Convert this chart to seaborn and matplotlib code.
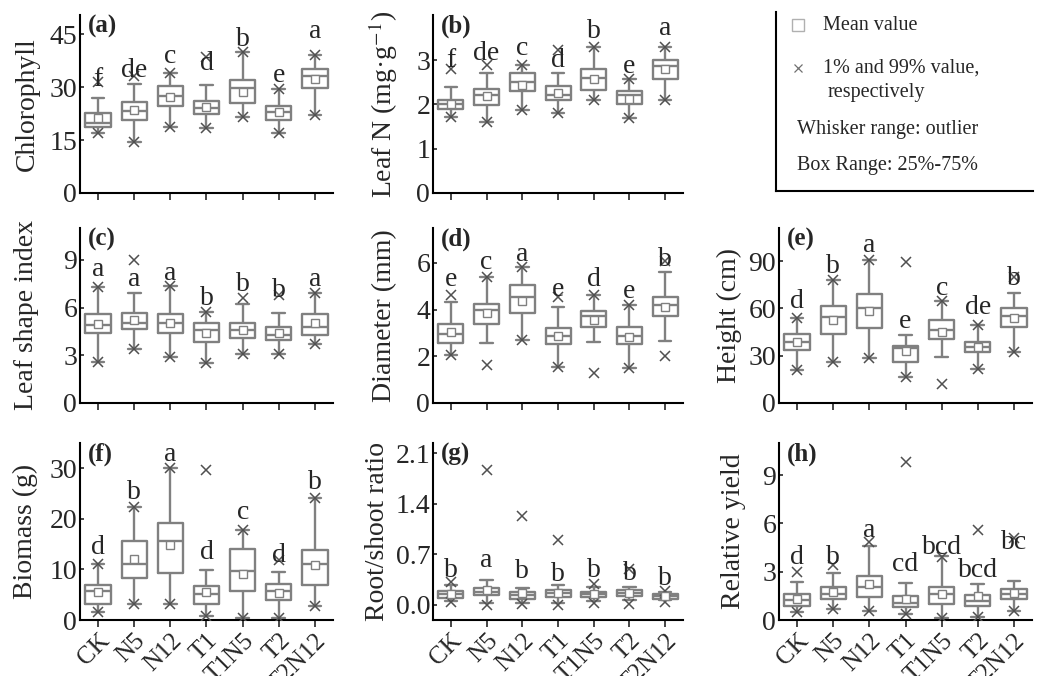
import numpy as np
import pandas as pd
import matplotlib
matplotlib.use("Agg")
import matplotlib.pyplot as plt
import seaborn as sns

groups = ["CK", "N5", "N12", "T1", "T1N5", "T2", "T2N12"]

# five-number summary per group: [whisker low, Q1, median, Q3, whisker high]
chl_stats = [[17.0, 18.8, 19.9, 22.7, 27.0], [14.5, 20.8, 23.3, 25.7, 30.9],
             [18.8, 24.7, 27.6, 30.3, 33.9], [18.3, 22.5, 24.0, 26.0, 30.6],
             [21.6, 25.4, 29.6, 32.0, 39.8], [16.9, 20.6, 23.0, 24.7, 29.4],
             [22.1, 29.6, 33.1, 35.0, 39.1]]
chl_mean = [21.1, 23.5, 27.3, 24.4, 28.7, 22.8, 32.2]
chl_p1 = [17.0, 14.5, 18.8, 18.3, 21.6, 16.9, 22.1]
chl_p99 = [31.5, 33.1, 33.9, 38.6, 39.8, 29.4, 39.1]
chl_letters = ["f", "de", "c", "d", "b", "e", "a"]
chl_letter_y = [32.0, 34.8, 38.6, 36.7, 43.4, 33.4, 45.7]

ln_stats = [[1.72, 1.89, 2.00, 2.11, 2.40], [1.61, 1.98, 2.21, 2.34, 2.70],
            [1.88, 2.30, 2.51, 2.70, 2.90], [1.81, 2.09, 2.21, 2.41, 2.70],
            [2.11, 2.32, 2.60, 2.80, 3.30], [1.70, 2.00, 2.21, 2.31, 2.58],
            [2.11, 2.58, 2.86, 3.00, 3.30]]
ln_mean = [2.02, 2.19, 2.43, 2.26, 2.57, 2.13, 2.80]
ln_p1 = [1.72, 1.61, 1.88, 1.81, 2.11, 1.70, 2.11]
ln_p99 = [2.80, 2.90, 2.90, 3.22, 3.30, 2.58, 3.30]
ln_letters = ["f", "de", "c", "d", "b", "e", "a"]
ln_letter_y = [3.00, 3.15, 3.26, 3.00, 3.64, 2.85, 3.72]

lsi_stats = [[2.57, 4.37, 4.89, 5.59, 7.28], [3.38, 4.68, 5.04, 5.63, 6.90],
             [2.89, 4.37, 5.04, 5.59, 7.36], [2.53, 3.84, 4.58, 5.00, 5.70],
             [3.06, 4.09, 4.58, 5.04, 6.22], [3.06, 3.99, 4.26, 4.79, 5.63],
             [3.69, 4.30, 4.79, 5.57, 6.90]]
lsi_mean = [4.96, 5.21, 5.04, 4.41, 4.58, 4.41, 5.00]
lsi_p1 = [2.57, 3.38, 2.89, 2.53, 3.06, 3.06, 3.69]
lsi_p99 = [7.28, 9.00, 7.36, 5.70, 6.62, 6.80, 6.90]
lsi_letters = ["a", "a", "a", "b", "b", "b", "a"]
lsi_letter_y = [8.38, 7.74, 8.16, 6.58, 7.43, 7.10, 7.74]

dia_stats = [[2.07, 2.58, 2.96, 3.37, 4.35], [2.58, 3.40, 3.97, 4.26, 5.41],
             [2.72, 3.84, 4.55, 5.06, 5.81], [1.54, 2.55, 2.86, 3.22, 4.12],
             [2.60, 3.27, 3.73, 3.94, 4.63], [1.50, 2.53, 2.86, 3.27, 4.19],
             [2.65, 3.73, 4.19, 4.55, 5.60]]
dia_mean = [3.04, 3.84, 4.37, 2.86, 3.55, 2.82, 4.13]
dia_p1 = [2.07, 1.64, 2.72, 1.54, 1.28, 1.50, 2.03]
dia_p99 = [4.63, 5.41, 5.81, 4.55, 4.63, 4.19, 6.10]
dia_letters = ["e", "c", "a", "e", "d", "e", "b"]
dia_letter_y = [5.28, 6.03, 6.35, 4.88, 5.31, 4.76, 6.17]

hgt_stats = [[20.7, 33.6, 38.8, 43.6, 54.0], [25.9, 43.6, 54.7, 61.8, 78.1],
             [28.6, 47.8, 60.3, 69.3, 90.6], [16.5, 25.9, 34.7, 36.3, 43.2],
             [29.4, 40.5, 46.1, 52.6, 64.5], [21.3, 32.2, 35.7, 39.0, 49.5],
             [32.6, 48.4, 55.1, 60.3, 69.7]]
hgt_mean = [38.4, 52.6, 58.2, 32.8, 45.3, 35.7, 54.1]
hgt_p1 = [20.7, 25.9, 28.6, 16.5, 12.3, 21.3, 32.6]
hgt_p99 = [54.0, 78.1, 90.6, 89.6, 64.5, 49.5, 79.7]
hgt_letters = ["d", "b", "a", "e", "c", "de", "b"]
hgt_letter_y = [64.5, 86.4, 100.0, 52.0, 72.9, 60.3, 79.1]

bio_stats = [[1.6, 3.2, 5.7, 7.0, 11.0], [3.2, 8.3, 11.1, 15.6, 22.3],
             [3.1, 9.3, 15.6, 19.2, 30.0], [0.8, 3.1, 5.1, 6.8, 9.8],
             [0.4, 5.7, 9.6, 14.1, 17.8], [0.4, 4.0, 5.7, 7.2, 9.5],
             [2.7, 7.0, 11.0, 13.9, 24.1]]
bio_mean = [5.5, 12.0, 14.9, 5.5, 9.1, 5.4, 10.9]
bio_p1 = [1.6, 3.2, 3.1, 0.8, 0.4, 0.4, 2.7]
bio_p99 = [11.0, 22.3, 30.0, 29.7, 17.8, 11.8, 24.1]
bio_letters = ["d", "b", "a", "d", "c", "d", "b"]
bio_letter_y = [14.4, 25.3, 32.8, 13.3, 21.3, 12.8, 27.2]

rs_stats = [[0.05, 0.10, 0.15, 0.19, 0.28], [0.03, 0.13, 0.18, 0.23, 0.34],
            [0.02, 0.08, 0.14, 0.18, 0.23], [0.02, 0.11, 0.16, 0.21, 0.27],
            [0.05, 0.11, 0.15, 0.18, 0.24], [0.07, 0.12, 0.16, 0.21, 0.24],
            [0.06, 0.08, 0.12, 0.15, 0.18]]
rs_mean = [0.15, 0.21, 0.17, 0.17, 0.15, 0.17, 0.12]
rs_p1 = [0.04, 0.00, 0.01, 0.00, 0.03, 0.01, 0.04]
rs_p99 = [0.31, 1.87, 1.23, 0.90, 0.29, 0.50, 0.19]
rs_letters = ["b", "a", "b", "b", "b", "b", "b"]
rs_letter_y = [0.48, 0.62, 0.46, 0.42, 0.48, 0.44, 0.37]

ry_stats = [[0.50, 0.87, 1.23, 1.60, 2.39], [0.71, 1.33, 1.64, 2.06, 2.95],
            [0.56, 1.43, 2.02, 2.74, 4.62], [0.40, 0.83, 1.08, 1.50, 2.27],
            [0.15, 1.02, 1.60, 2.02, 3.99], [0.21, 0.87, 1.19, 1.56, 2.22],
            [0.56, 1.29, 1.60, 1.91, 2.43]]
ry_mean = [1.33, 1.75, 2.22, 1.29, 1.60, 1.50, 1.70]
ry_p1 = [0.50, 0.71, 0.56, 0.40, 0.15, 0.21, 0.56]
ry_p99 = [2.99, 3.41, 4.86, 9.81, 3.89, 5.61, 5.10]
ry_letters = ["d", "b", "a", "cd", "bcd", "bcd", "bc"]
ry_letter_y = [3.89, 3.89, 5.55, 3.47, 4.51, 3.06, 4.82]

sns.set_style("ticks")
plt.rcParams["font.family"] = ["Liberation Serif", "DejaVu Serif"]
plt.rcParams["mathtext.fontset"] = "stix"

fig = plt.figure(figsize=(10.37, 6.76), dpi=100)
W, H = 1037, 676

col_left = [80, 433, 779]
col_width = [253, 250, 253]
row_top = [15, 228, 443]
row_bot = [193, 403, 620]


def make_ax(r, c):
    return fig.add_axes([col_left[c] / W, 1 - row_bot[r] / H,
                         col_width[c] / W, (row_bot[r] - row_top[r]) / H])


panels = [
    ("(a)", 0, 0, chl_stats, chl_mean, chl_p1, chl_p99, chl_letters, chl_letter_y,
     "Chlorophyll", (0, 50.4), [0, 15, 30, 45], "{:.0f}", -0.158),
    ("(b)", 0, 1, ln_stats, ln_mean, ln_p1, ln_p99, ln_letters, ln_letter_y,
     r"Leaf N (mg·g$^{-1}$)", (0, 4.02), [0, 1, 2, 3], "{:.0f}", -0.132),
    ("(c)", 1, 0, lsi_stats, lsi_mean, lsi_p1, lsi_p99, lsi_letters, lsi_letter_y,
     "Leaf shape index", (0, 11), [0, 3, 6, 9], "{:.0f}", -0.163),
    ("(d)", 1, 1, dia_stats, dia_mean, dia_p1, dia_p99, dia_letters, dia_letter_y,
     "Diameter (mm)", (0, 7.5), [0, 2, 4, 6], "{:.0f}", -0.144),
    ("(e)", 1, 2, hgt_stats, hgt_mean, hgt_p1, hgt_p99, hgt_letters, hgt_letter_y,
     "Height (cm)", (0, 111), [0, 30, 60, 90], "{:.0f}", -0.146),
    ("(f)", 2, 0, bio_stats, bio_mean, bio_p1, bio_p99, bio_letters, bio_letter_y,
     "Biomass (g)", (0, 35), [0, 10, 20, 30], "{:.0f}", -0.166),
    ("(g)", 2, 1, rs_stats, rs_mean, rs_p1, rs_p99, rs_letters, rs_letter_y,
     "Root/shoot ratio", (-0.21, 2.24), [0, 0.7, 1.4, 2.1], "{:.1f}", -0.172),
    ("(h)", 2, 2, ry_stats, ry_mean, ry_p1, ry_p99, ry_letters, ry_letter_y,
     "Relative yield", (0, 11), [0, 3, 6, 9], "{:.0f}", -0.131),
]

box_color = "#808080"
mark_color = "#505050"

for (tag, r, c, stats, mean, p1, p99, letters, let_y,
     ylabel, ylim, yticks, fmt, lab_x) in panels:
    ax = make_ax(r, c)
    rows = []
    for g, s in zip(groups, stats):
        for v in s:
            rows.append((g, v))
    df = pd.DataFrame(rows, columns=["group", "value"])
    sns.boxplot(data=df, x="group", y="value", order=groups, ax=ax,
                whis=(0, 100), fill=False, color=box_color, linewidth=1.7,
                width=0.7, showfliers=False)
    pos = np.arange(len(groups))
    ax.plot(pos, p1, ls="none", marker="x", ms=7, mew=1.1, color=mark_color, zorder=5)
    ax.plot(pos, p99, ls="none", marker="x", ms=7, mew=1.1, color=mark_color, zorder=5)
    ax.plot(pos, mean, ls="none", marker="s", ms=5.5, mfc="white", mec=box_color,
            mew=1.0, zorder=6)
    for i, (t, y) in enumerate(zip(letters, let_y)):
        ax.text(i, y, t, ha="center", va="center", fontsize=20, zorder=7)

    ax.set_xlim(-0.5, 6.5)
    ax.set_ylim(*ylim)
    ax.set_yticks(yticks)
    ax.set_yticklabels([fmt.format(v) for v in yticks])
    ax.set_xlabel("")
    ax.set_ylabel(ylabel, fontsize=20)
    ax.yaxis.set_label_coords(lab_x, 0.5)
    for side in ["top", "right"]:
        ax.spines[side].set_visible(False)
    for side in ["left", "bottom"]:
        ax.spines[side].set_linewidth(1.5)
        ax.spines[side].set_color("black")
    ax.tick_params(axis="y", direction="in", length=3, width=1.2, labelsize=20, pad=2)
    ax.tick_params(axis="x", direction="out", length=5, width=1.2, labelsize=18, pad=2)
    ax.set_xticks(pos)
    if r == 2:
        ax.set_xticklabels(groups, rotation=45, ha="right", rotation_mode="anchor")
    else:
        ax.set_xticklabels([])
    ax.text(0.03, 1.0, tag, transform=ax.transAxes, ha="left", va="top",
            fontsize=18, fontweight="bold")

# legend panel
lg = fig.add_axes([776 / W, 1 - 191 / H, 257 / W, 179 / H])
lg.set_xlim(0, 1)
lg.set_ylim(0, 1)
lg.set_xticks([])
lg.set_yticks([])
for side in ["top", "right"]:
    lg.spines[side].set_visible(False)
for side in ["left", "bottom"]:
    lg.spines[side].set_linewidth(1.5)
    lg.spines[side].set_color("black")
lg.plot([0.086], [0.927], ls="none", marker="s", ms=9, mfc="white", mec="#b0b0b0", mew=1.0)
lg.plot([0.086], [0.687], ls="none", marker="x", ms=6, mew=0.9, color="#707070")
lg.text(0.183, 0.927, "Mean value", fontsize=14.5, va="center")
lg.text(0.183, 0.687, "1% and 99% value,", fontsize=14.5, va="center")
lg.text(0.202, 0.553, "respectively", fontsize=14.5, va="center")
lg.text(0.082, 0.341, "Whisker range: outlier", fontsize=14.5, va="center")
lg.text(0.082, 0.145, "Box Range: 25%-75%", fontsize=14.5, va="center")

fig.savefig("out.png", dpi=100)
